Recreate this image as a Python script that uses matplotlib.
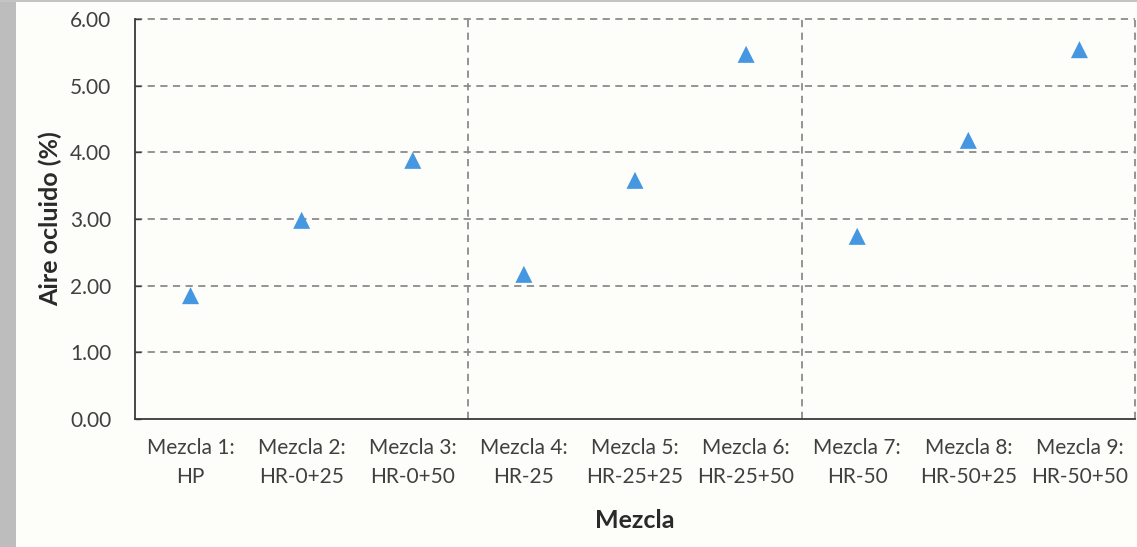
import matplotlib
matplotlib.use("Agg")
import matplotlib.pyplot as plt
from matplotlib.patches import Rectangle

# Mixture labels and occluded air content (%)
mezclas = ["Mezcla 1:\nHP", "Mezcla 2:\nHR-0+25", "Mezcla 3:\nHR-0+50",
           "Mezcla 4:\nHR-25", "Mezcla 5:\nHR-25+25", "Mezcla 6:\nHR-25+50",
           "Mezcla 7:\nHR-50", "Mezcla 8:\nHR-50+25", "Mezcla 9:\nHR-50+50"]
aire_ocluido = [1.85, 2.98, 3.88, 2.17, 3.58, 5.47, 2.74, 4.18, 5.54]
y_ticks = [0, 1, 2, 3, 4, 5, 6]

plt.rcParams["font.family"] = ["Lato", "DejaVu Sans"]

W, H = 1137, 547
bg = "#fdfdf9"
fig = plt.figure(figsize=(W / 100, H / 100), dpi=100, facecolor=bg)

# grey frame strips on the left and top edge
fig.patches.append(Rectangle((0, 0), 16 / W, 1, transform=fig.transFigure,
                             facecolor="#bdbdbd", edgecolor="none", zorder=0))
fig.patches.append(Rectangle((0, 1 - 2 / H), 1, 2 / H, transform=fig.transFigure,
                             facecolor="#c4c4c4", edgecolor="none", zorder=0))

left, right, top, bottom = 135, 1135, 19, 419
ax = fig.add_axes([left / W, (H - bottom) / H, (right - left) / W, (bottom - top) / H])
ax.set_facecolor(bg)

x = list(range(len(mezclas)))
ax.set_xlim(-0.5, len(mezclas) - 0.5)
ax.set_ylim(0, 6)

grid_kw = dict(color="#8c8c8c", linestyle=(0, (4, 3)), linewidth=1.3, zorder=1, clip_on=False)
for yv in y_ticks[1:]:
    ax.axhline(yv, **grid_kw)
for xv in [2.5, 5.5, 8.5]:
    ax.axvline(xv, **grid_kw)

ax.scatter(x, aire_ocluido, marker="^", s=150, color="#4497e0", edgecolors="none", zorder=3)

for s in ["top", "right"]:
    ax.spines[s].set_visible(False)
for s in ["left", "bottom"]:
    ax.spines[s].set_color("#3a3a3a")
    ax.spines[s].set_linewidth(1.3)

ax.set_yticks(y_ticks)
ax.set_yticklabels([f"{v:.2f}" for v in y_ticks])
ax.set_xticks(x)
ax.set_xticklabels(mezclas, linespacing=1.55)
ax.tick_params(axis="y", direction="in", length=4, width=1, color="#3a3a3a",
               labelsize=15, labelcolor="#404040", pad=17)
ax.tick_params(axis="x", length=0, labelsize=15, labelcolor="#404040", pad=14)

ax.set_ylabel("Aire ocluido (%)", fontsize=18, fontweight="bold", color="#2a2a2a", labelpad=6)
ax.set_xlabel("Mezcla", fontsize=18, fontweight="bold", color="#2a2a2a", labelpad=16)

fig.savefig("out.png", dpi=100, facecolor=bg)
